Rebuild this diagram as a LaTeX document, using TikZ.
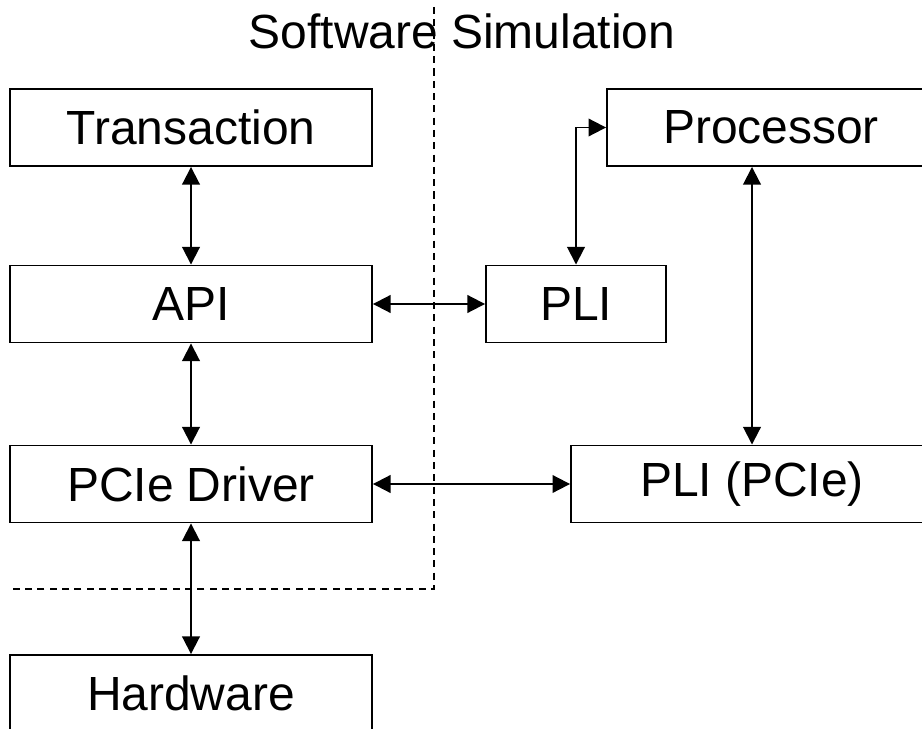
\documentclass[tikz,border=0pt]{standalone}
\usepackage{fontspec}
\setmainfont{Liberation Sans}
\usetikzlibrary{arrows.meta,positioning}

\tikzset{
    block/.style={draw, line width=1.1pt, minimum height=1.54cm, inner sep=0pt,
        font=\fontsize{27.3}{32}\selectfont},
    link/.style={line width=1.1pt,
        {Triangle[length=10pt,width=10pt]}-{Triangle[length=10pt,width=10pt]}},
    border/.style={line width=0.8pt, dash pattern=on 4pt off 3pt}
}

\begin{document}
\begin{tikzpicture}[x=0.02cm, y=-0.02cm]
    \useasboundingbox (0,0) rectangle (922,729);
    \clip (0,0) rectangle (922,729);

    % Title
    \node[font=\fontsize{27.3}{32}\selectfont] (title) at (462,31) {Software Simulation};

    % === Software side ===
    \node[block, minimum width=7.24cm] (trans) at (191,127.5) {Transaction};
    \node[block, minimum width=7.24cm] (api) at (191,304) {API};
    \node[block, minimum width=7.24cm] (driver) at (191,484) {PCIe Driver};
    \node[block, minimum width=7.24cm] (hw) at (191,693.5) {Hardware};

    % === Simulation side ===
    \node[block, minimum width=6.56cm] (proc) at (771,127.5) {Processor};
    \node[block, minimum width=3.6cm] (pli) at (576,304) {PLI};
    \node[block, minimum width=7.24cm] (plipcie) at (752,484) {PLI (PCIe)};

    % Boundary between software and simulation
    \coordinate (top) at (434,7);
    \coordinate (corner) at (434,589);
    \coordinate (left) at (10,589);
    \draw[border] (top) -- (corner) -- (left);

    % Links
    \draw[link] (trans) -- (api);
    \draw[link] (api) -- (driver);
    \draw[link] (driver) -- (hw);
    \draw[link] (api) -- (pli);
    \draw[link] (driver) -- (plipcie);
    \draw[link] (pli.north) |- (proc.west);
    \draw[link] (plipcie.north) -- (plipcie.north |- proc.south);
\end{tikzpicture}
\end{document}
